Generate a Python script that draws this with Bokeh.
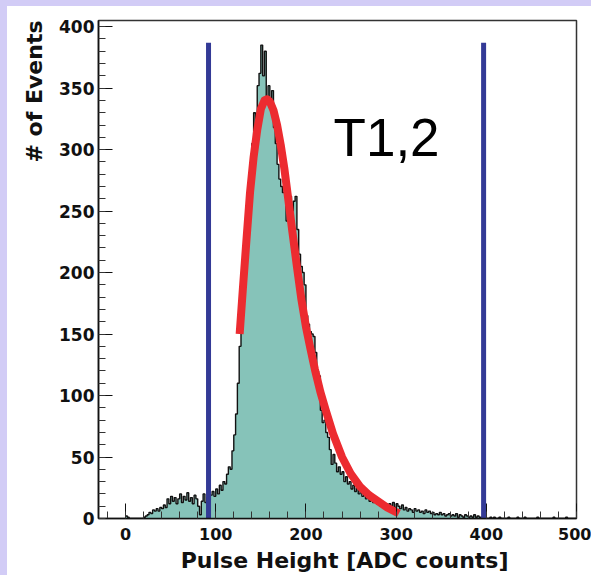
import numpy as np
from bokeh.plotting import figure
from bokeh.models import Range1d, SingleIntervalTicker, Label, Spacer, Title
from bokeh.layouts import column, row
from bokeh.embed import file_html
from bokeh.resources import INLINE

# ---------------- data ----------------
BIN_START = 0
BIN_WIDTH = 2
COUNTS = [
    2, 1, 0, 0, 0, 0, 0, 0, 0, 0, 1, 2, 3, 5, 4, 7, 6, 8, 6, 9, 8, 11, 9, 16, 12,
    18, 14, 17, 12, 16, 20, 13, 18, 15, 21, 14, 17, 12, 19, 16, 10, 3, 14, 20, 13, 17, 15, 19, 22, 18,
    24, 20, 27, 23, 30, 28, 36, 42, 40, 55, 68, 85, 110, 140, 175, 205, 230, 252, 265, 285, 305, 330, 318, 352, 362,
    385, 360, 380, 340, 352, 335, 348, 318, 305, 288, 276, 270, 265, 268, 242, 255, 262, 250, 258, 262, 235, 215, 205, 200, 190,
    165, 158, 152, 150, 148, 135, 120, 116, 88, 78, 80, 70, 66, 56, 44, 52, 45, 38, 42, 36, 38, 30, 34, 28, 30,
    24, 27, 22, 25, 20, 23, 18, 21, 16, 19, 14, 17, 13, 15, 12, 14, 10, 13, 11, 12, 9, 12, 10, 13, 9,
    12, 10, 8, 11, 7, 9, 6, 8, 7, 5, 8, 6, 7, 5, 6, 4, 7, 5, 6, 4, 5, 3, 4, 3, 5,
    3, 4, 2, 3, 4, 2, 3, 2, 4, 1, 3, 2, 1, 3, 2, 1, 2, 1, 3, 1, 2, 1, 1, 2, 1,
    0, 0, 1, 0, 1, 0, 0, 1, 0, 0, 0, 0, 1, 0, 0, 0, 0, 1, 0, 0, 0, 1, 0, 0, 0,
    0, 0, 0, 1, 0, 0, 0, 0, 0, 0, 0, 0, 1, 0, 0, 0, 0, 0, 0, 1, 0, 0, 0, 0, 0,
]
FIT_X = [126.5, 130, 134, 138, 142, 146, 150, 154, 157, 160, 164, 168, 172, 176, 180,
         185, 190, 195, 200, 205, 210, 216, 222, 230, 240, 250, 260, 270, 280, 290, 303]
FIT_Y = [150, 186, 226, 265, 294, 316, 333, 340, 341, 339, 332, 320, 304, 285, 262,
         233, 205, 178, 156, 138, 121, 103, 88, 69, 50, 36, 26, 19, 14, 9, 4]
CUT_X = [92, 397]
CUT_TOP = [387, 387]
X_RANGE = (-30, 500)
Y_RANGE = (0, 405)
X_TICK_STEP = 100
Y_TICK_STEP = 50
X_TITLE = "Pulse Height [ADC counts]"
Y_TITLE = "# of Events"
TAG = "T1,2"

# ---------------- styles ----------------
LAVENDER = "#D2CCF6"
TEAL = "#86C3B9"
BLUE = "#333A96"
RED = "#EC2B30"
BOLD_FONT = "DejaVu Sans"

counts = np.array(COUNTS, dtype=float)
left = BIN_START + BIN_WIDTH * np.arange(len(counts))
right = left + BIN_WIDTH
step_x = np.append(left, right[-1])
step_y = np.append(counts, counts[-1])

p = figure(width=584, height=569,
           x_range=Range1d(*X_RANGE), y_range=Range1d(*Y_RANGE),
           output_backend="svg", toolbar_location=None,
           min_border_left=91, min_border_right=15,
           min_border_top=14, min_border_bottom=57)
p.grid.visible = False
p.background_fill_color = "white"
p.border_fill_color = "white"
p.outline_line_color = "#333333"
p.outline_line_width = 1.5

# histogram fill and outline
p.varea_step(x=step_x, y1=np.zeros_like(step_y), y2=step_y, step_mode="after",
             fill_color=TEAL)
p.step(step_x, step_y, mode="after", line_color="#111111", line_width=1.4)

# cut lines
p.segment(x0=CUT_X, y0=[0, 0], x1=CUT_X, y1=CUT_TOP,
          line_color=BLUE, line_width=5)

# fit curve
p.line(FIT_X, FIT_Y, line_color=RED, line_width=8, line_cap="butt", line_join="round")

# axes
for ax, step in ((p.xaxis, X_TICK_STEP), (p.yaxis, Y_TICK_STEP)):
    ax.ticker = SingleIntervalTicker(interval=step, num_minor_ticks=5)
    ax.major_tick_out = 0
    ax.minor_tick_out = 0
    ax.minor_tick_in = 7
    ax.axis_line_width = 1.6
    ax.axis_line_color = "#111111"
    ax.major_tick_line_color = "#111111"
    ax.minor_tick_line_color = "#333333"
    ax.major_label_text_font = BOLD_FONT
    ax.major_label_text_font_style = "bold"
    ax.major_label_text_color = "#111111"
p.xaxis.major_tick_in = 15
p.yaxis.major_tick_in = 14
p.xaxis.major_label_text_font_size = "16px"
p.yaxis.major_label_text_font_size = "17px"
p.xaxis.major_label_standoff = 9
p.xaxis.major_label_text_line_height = 0.8
p.yaxis.major_label_standoff = 4

# axis titles (ROOT style: right / top aligned)
p.add_layout(Title(text=X_TITLE, align="right", offset=68, standoff=6,
                   text_font=BOLD_FONT, text_font_style="bold",
                   text_font_size="22px", text_color="#111111"), "below")
p.add_layout(Title(text=Y_TITLE, align="right", offset=0, standoff=20,
                   text_font=BOLD_FONT, text_font_style="bold",
                   text_font_size="22px", text_color="#111111"), "left")

p.add_layout(Label(x=230.6, y=310, text=TAG, text_align="left",
                   text_baseline="alphabetic", text_font="Liberation Sans",
                   text_font_size="53px", text_color="black"))

top_band = Spacer(width=591, height=6, styles={"background-color": LAVENDER})
left_band = Spacer(width=7, height=569, styles={"background-color": LAVENDER})
page = column(top_band, row(left_band, p, spacing=0), spacing=0)

open("out.html", "w").write(file_html(page, INLINE))
